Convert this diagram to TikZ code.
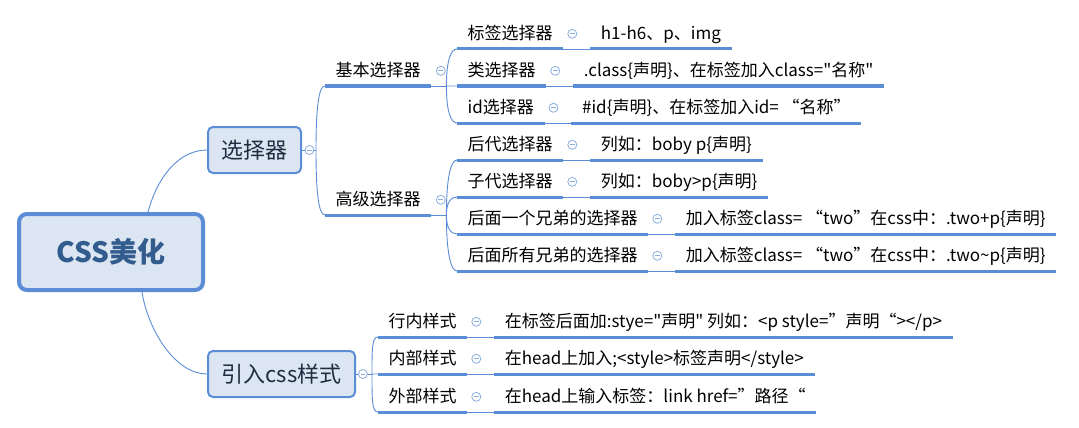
\documentclass[tikz,border=0pt]{standalone}
\usepackage{fontspec}
\setmainfont{Noto Sans CJK SC}[Ligatures=TeXOff]
\usepackage{xcolor}
\definecolor{Mind Blue}{HTML}{5A8DD6}
\definecolor{Pale Blue}{HTML}{DCE6F2}
\definecolor{Ink Blue}{HTML}{335C8E}
\definecolor{Night Blue}{HTML}{1E2D40}
\definecolor{Fold Blue}{HTML}{8AAEDF}
\colorlet{cLine}{Mind Blue}
\colorlet{cFill}{Pale Blue}
\colorlet{cInk}{Ink Blue}
\colorlet{cText}{Night Blue}
\colorlet{cFold}{Fold Blue}
\usepackage{tikz}
\usetikzlibrary{calc, positioning}
\tikzset{
	line width = .75pt,
	root/.style={
		draw=cLine,
		fill=cFill,
		line width=4pt,
		rounded corners=8pt,
		minimum width=184pt,
		minimum height=76pt,
		text=cInk,
		font=\fontsize{28}{32}\selectfont\bfseries
	},
	topic/.style={
		draw=cLine,
		fill=cFill,
		line width=2pt,
		rounded corners=5pt,
		minimum height=46pt,
		text=cText,
		font=\fontsize{22}{26}\selectfont
	},
	leaf/.style={
		inner xsep=10.5pt,
		inner ysep=0pt,
		minimum height=30pt,
		text height=14pt,
		text depth=3pt,
		font=\fontsize{17}{20}\selectfont
	},
	underline/.style={
		draw=cLine,
		line width=3pt
	},
	link/.style={
		draw=cLine,
		line width=.9pt
	},
	fold/.style={
		circle,
		draw=cFold,
		fill=white,
		line width=.8pt,
		minimum size=9pt,
		inner sep=0pt,
		path picture={\draw[cFold, line width=.8pt]
			([xshift=-2.4pt]path picture bounding box.center) --
			([xshift=2.4pt]path picture bounding box.center);}
	},
	branch/.style={
		to path={.. controls ($(\tikztostart)!.7!(\tikztostart|-\tikztotarget)$)
			and ([xshift=-6pt]\tikztotarget) .. (\tikztotarget)}
	}
}

\begin{document}
\begin{tikzpicture}[x=1pt, y=-1pt]
        \useasboundingbox (0,0) rectangle (1079,428);

        \node[root] (css) at (111,252) {CSS美化};
        \node[topic, minimum width=93pt] (sel) at (254.5,150) {选择器};
        \node[topic, minimum width=147pt] (imp) at (281.5,374) {引入css样式};

        \node[leaf, anchor=south west] (basic) at (325,86) {基本选择器};
        \node[fold, right=4.5pt of basic] (basicf) {};
        \node[leaf, anchor=south west] (adv) at (325,215) {高级选择器};
        \node[fold, right=4.5pt of adv] (advf) {};

        % basic selectors
        \node[leaf, anchor=south west] (tag) at (457,49) {标签选择器};
        \node[fold, right=4pt of tag] (tagf) {};
        \node[leaf, right=13pt of tagf] (tagv) {h1-h6、p、img};
        \node[leaf, anchor=south west] (cls) at (457,86) {类选择器};
        \node[fold, right=4pt of cls] (clsf) {};
        \node[leaf, right=13pt of clsf] (clsv) {.class\{声明\}、在标签加入class="名称"};
        \node[leaf, anchor=south west] (ids) at (457,123) {id选择器};
        \node[fold, right=4pt of ids] (idsf) {};
        \node[leaf, right=13pt of idsf] (idsv) {\#id\{声明\}、在标签加入id= “名称”};

        % advanced selectors
        \node[leaf, anchor=south west] (desc) at (457,160) {后代选择器};
        \node[fold, right=4pt of desc] (descf) {};
        \node[leaf, right=13pt of descf] (descv) {列如：boby p\{声明\}};
        \node[leaf, anchor=south west] (kid) at (457,197) {子代选择器};
        \node[fold, right=4pt of kid] (kidf) {};
        \node[leaf, right=13pt of kidf] (kidv) {列如：boby>p\{声明\}};
        \node[leaf, anchor=south west] (next) at (457,234) {后面一个兄弟的选择器};
        \node[fold, right=4pt of next] (nextf) {};
        \node[leaf, right=13pt of nextf] (nextv) {加入标签class= “two”在css中：.two+p\{声明\}};
        \node[leaf, anchor=south west] (sibs) at (457,271) {后面所有兄弟的选择器};
        \node[fold, right=4pt of sibs] (sibsf) {};
        \node[leaf, right=13pt of sibsf] (sibsv) {加入标签class= “two”在css中：.two\textasciitilde p\{声明\}};

        % ways to include css
        \node[leaf, anchor=south west] (inl) at (378,337) {行内样式};
        \node[fold, right=4pt of inl] (inlf) {};
        \node[leaf, right=13pt of inlf] (inlv) {在标签后面加:stye="声明" 列如：<p style=”声明“></p>};
        \node[leaf, anchor=south west] (emb) at (378,374) {内部样式};
        \node[fold, right=4pt of emb] (embf) {};
        \node[leaf, right=13pt of embf] (embv) {在head上加入;<style>标签声明</style>};
        \node[leaf, anchor=south west] (ext) at (378,412) {外部样式};
        \node[fold, right=4pt of ext] (extf) {};
        \node[leaf, right=13pt of extf] (extv) {在head上输入标签：link href=”路径“};

        \coordinate (selj) at ([xshift=14pt]sel.east);
        \coordinate (impj) at ([xshift=16pt]imp.east);
        \coordinate (basicj) at ([xshift=15pt]basic.south east);
        \coordinate (advj) at ([xshift=15pt]adv.south east);

        \draw[link] ([xshift=37pt]css.north) .. controls +(10,-37) and +(-27,0) .. (sel.west);
        \draw[link] ([xshift=31pt]css.south) .. controls +(6,38) and +(-32,0) .. (imp.west);

        \draw[link] (sel.east) -- (selj) (imp.east) -- (impj)
            (basic.south east) -- (basicj) (adv.south east) -- (advj);
        \draw[link] (selj) to[branch] (basic.south west)
            (selj) to[branch] (adv.south west)
            (basicj) to[branch] (tag.south west)
            (basicj) to[branch] (cls.south west)
            (basicj) to[branch] (ids.south west)
            (advj) to[branch] (desc.south west)
            (advj) to[branch] (kid.south west)
            (advj) to[branch] (next.south west)
            (advj) to[branch] (sibs.south west)
            (impj) to[branch] (inl.south west)
            (impj) to[branch] (emb.south west)
            (impj) to[branch] (ext.south west);
        \draw[link] (tag.south east) -- (tagv.south west)
            (cls.south east) -- (clsv.south west)
            (ids.south east) -- (idsv.south west)
            (desc.south east) -- (descv.south west)
            (kid.south east) -- (kidv.south west)
            (next.south east) -- (nextv.south west)
            (sibs.south east) -- (sibsv.south west)
            (inl.south east) -- (inlv.south west)
            (emb.south east) -- (embv.south west)
            (ext.south east) -- (extv.south west);

        \draw[underline] (basic.south west) -- (basic.south east)
            (adv.south west) -- (adv.south east)
            (tag.south west) -- (tag.south east) (tagv.south west) -- (tagv.south east)
            (cls.south west) -- (cls.south east) (clsv.south west) -- (clsv.south east)
            (ids.south west) -- (ids.south east) (idsv.south west) -- (idsv.south east)
            (desc.south west) -- (desc.south east) (descv.south west) -- (descv.south east)
            (kid.south west) -- (kid.south east) (kidv.south west) -- (kidv.south east)
            (next.south west) -- (next.south east) (nextv.south west) -- (nextv.south east)
            (sibs.south west) -- (sibs.south east) (sibsv.south west) -- (sibsv.south east)
            (inl.south west) -- (inl.south east) (inlv.south west) -- (inlv.south east)
            (emb.south west) -- (emb.south east) (embv.south west) -- (embv.south east)
            (ext.south west) -- (ext.south east) (extv.south west) -- (extv.south east);

        \node[fold, right=2.5pt of sel] (self) {};
        \node[fold, right=2pt of imp] (impf) {};
    \end{tikzpicture}
\end{document}
